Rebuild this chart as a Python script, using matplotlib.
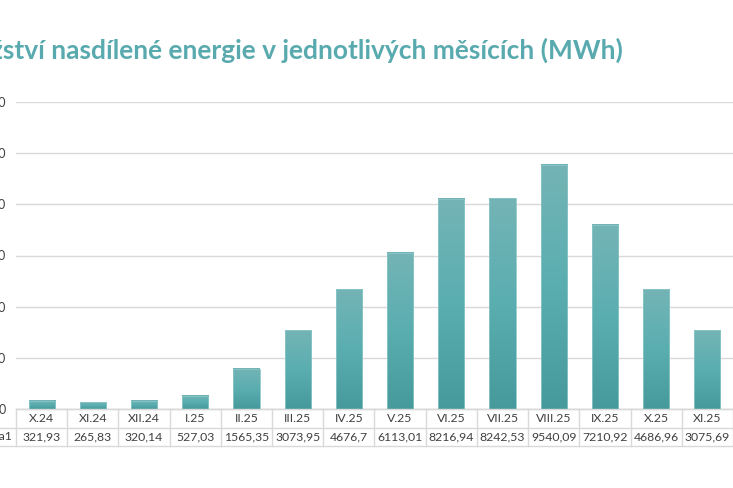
import numpy as np
import matplotlib
matplotlib.use("Agg")
import matplotlib.pyplot as plt
from matplotlib.colors import LinearSegmentedColormap

# data
months = ["X.24", "XI.24", "XII.24", "I.25", "II.25", "III.25", "IV.25",
          "V.25", "VI.25", "VII.25", "VIII.25", "IX.25", "X.25", "XI.25"]
energy = [321.93, 265.83, 320.14, 527.03, 1565.35, 3073.95, 4676.7,
          6113.01, 8216.94, 8242.53, 9540.09, 7210.92, 4686.96, 3075.69]
yticks = [0, 2000, 4000, 6000, 8000, 10000, 12000]
series_name = "Řada1"
title = "Množství nasdílené energie v jednotlivých měsících (MWh)"

W, H = 733, 488
TITLE_C = "#58AAAE"
GRID_C = "#D9D9D9"
TXT_C = "#404040"
FONT = "Lato"

plt.rcParams["font.family"] = [FONT, "DejaVu Sans"]

fig = plt.figure(figsize=(W / 100, H / 100), dpi=100)
# plot area: x 16..733 px, y 102 (12000) .. 409 (0) px
ax = fig.add_axes([16 / W, (H - 409) / H, 1 - 16 / W, (409 - 102) / H])

# gradient bars
cmap = LinearSegmentedColormap.from_list("teal", ["#479A9B", "#5AAEB0", "#74B4B6"])
grad = np.linspace(0, 1, 256).reshape(-1, 1)
bw = 0.51
bars = ax.bar(range(len(months)), energy, width=bw, color="none",
              edgecolor="#8CC6C7", lw=0.6, zorder=3)
for b in bars:
    x0, y0 = b.get_x(), b.get_y()
    ax.imshow(grad, cmap=cmap, origin="lower", aspect="auto", zorder=2.5,
              extent=[x0, x0 + b.get_width(), y0, y0 + b.get_height()],
              interpolation="bilinear")
ax.set_xlim(-0.5, len(months) - 0.5)
ax.set_ylim(0, 12000)

ax.set_yticks(yticks)
ax.set_yticklabels([f"{v:,}".replace(",", " ") for v in yticks],
                   fontsize=9, color=TXT_C)
ax.tick_params(axis="y", length=0, pad=7.5)
ax.set_xticks([])
ax.grid(axis="y", color=GRID_C, lw=1.0, zorder=0)
ax.set_axisbelow(True)
for s in ["top", "right", "left"]:
    ax.spines[s].set_visible(False)
ax.spines["bottom"].set_color(GRID_C)
ax.spines["bottom"].set_linewidth(1.0)

# data table under the plot
trans = ax.get_xaxis_transform()
px = 1.0 / (409 - 102)  # one pixel in axes-y units
r0, r1, r2 = 0.0, -19 * px, -37 * px
xs = np.arange(len(months) + 1) - 0.5
for xv in xs:
    ax.plot([xv, xv], [r0, r2], transform=trans, color=GRID_C, lw=1.0,
            clip_on=False)
ax.plot([-0.5, len(months) - 0.5], [r0, r0], transform=trans, color=GRID_C,
        lw=1.0, clip_on=False)
for yv in (r1, r2):
    ax.plot([-1.5, len(months) - 0.5], [yv, yv], transform=trans,
            color=GRID_C, lw=1.0, clip_on=False)
for i, (m, v) in enumerate(zip(months, energy)):
    ax.text(i, (r0 + r1) / 2, m, transform=trans, ha="center", va="center",
            fontsize=8.8, color=TXT_C)
    ax.text(i, (r1 + r2) / 2, f"{v:g}".replace(".", ","), transform=trans,
            ha="center", va="center", fontsize=8.8, color=TXT_C)
ax.text(-0.5 - 3 / 51.2, (r1 + r2) / 2, series_name, transform=trans,
        ha="right", va="center", fontsize=8.8, color=TXT_C)

# title, cut off on the left like the reference
fig.text(623 / W, 1 - 50 / H, title, ha="right", va="center",
         fontsize=19, fontweight="bold", color=TITLE_C)

fig.savefig("out.png", dpi=100)
